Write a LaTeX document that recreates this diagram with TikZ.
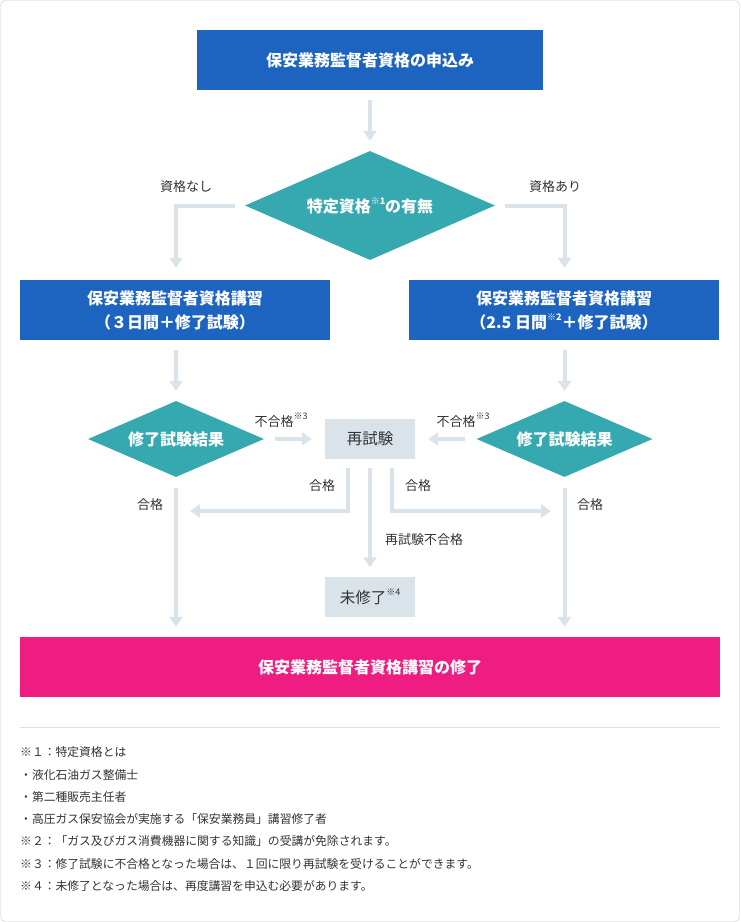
\documentclass[tikz,border=0pt]{standalone}
\usepackage{fontspec}
\setmainfont{Noto Sans CJK JP}
\usetikzlibrary{shapes.geometric,arrows.meta,positioning}
\definecolor{boxblue}{HTML}{1D63C0}
\definecolor{judgegreen}{HTML}{36A8B0}
\definecolor{donepink}{HTML}{EF1D82}
\definecolor{flowgray}{HTML}{DAE2EA}
\definecolor{framegray}{HTML}{BFCEDC}
\definecolor{textgray}{HTML}{333333}
\newcommand\kome[1]{\raisebox{0.5em}{\fontsize{9}{9}\selectfont ※#1}}
\tikzset{
  bluebox/.style={fill=boxblue, text=white, minimum width=346pt, minimum height=60pt, inner sep=0pt,
    align=center, font=\fontsize{16}{24}\selectfont\bfseries},
  graybox/.style={fill=flowgray, text=textgray, minimum width=90pt, minimum height=40pt, inner sep=0pt,
    font=\fontsize{15.5}{15.5}\selectfont},
  decision/.style={diamond, shape aspect=2.3, fill=judgegreen, text=white, inner sep=0pt,
    font=\fontsize{16}{16}\selectfont\bfseries},
  flow/.style={draw=flowgray, line width=4pt, -{Triangle[width=13pt,length=10pt]}, shorten <=10pt, shorten >=10pt},
  flowtag/.style={text=textgray, font=\fontsize{13}{13}\selectfont},
  footline/.style={text=textgray, anchor=west, inner sep=0pt, font=\fontsize{11.8}{12}\selectfont}
}
\begin{document}
\begin{tikzpicture}[x=1pt,y=-1pt]
\useasboundingbox (0,0) rectangle (740,922);
\draw[framegray, rounded corners=5pt] (0.5,0.5) rectangle (739.5,921.5);

\node[bluebox] (apply) at (370,60) {保安業務監督者資格の申込み};
\node[decision, minimum width=250pt, minimum height=109pt] (tokutei) at (370,205.5) {特定資格\kome{1}の有無};
\node[bluebox, minimum width=310pt] (course3) at (175,310) {保安業務監督者資格講習\\（３日間＋修了試験）};
\node[bluebox, minimum width=310pt] (course25) at (564,310) {保安業務監督者資格講習\\（2.5 日間\kome{2}＋修了試験）};
\node[decision, minimum width=176pt, minimum height=76pt] (resultL) at (176,439) {修了試験結果};
\node[decision, minimum width=176pt, minimum height=76pt] (resultR) at (564.5,439) {修了試験結果};
\node[graybox] (retest) at (370,439) {再試験};
\node[graybox] (miss) at (370,596.5) {未修了\kome{4}};
\node[bluebox, fill=donepink, minimum width=700pt] (done) at (370,667) {保安業務監督者資格講習の修了};
\coordinate (joinL) at (176,511);
\coordinate (joinR) at (565,511);

\draw[flow] (apply) -- (tokutei);
\draw[flow, shorten >=12pt] (tokutei.west) -| (course3.north -| resultL);
\draw[flow, shorten >=12pt] (tokutei.east) -| (course25.north -| resultR);
\draw[flow] (course3.south -| resultL) -- (resultL);
\draw[flow] (course25.south -| resultR) -- (resultR);
\draw[flow, shorten <=11pt, shorten >=13pt] (resultL.east) -- (retest.west);
\draw[flow, shorten <=11pt, shorten >=13pt] (resultR.west) -- (retest.east);
\draw[flow, shorten <=11pt] (resultL.south) -- (done.north -| resultL);
\draw[flow, shorten <=11pt] (resultR.south) -- (done.north -| resultR);
\draw[flow, shorten <=9pt, shorten >=14pt] ([xshift=-22pt]retest.south) |- (joinL);
\draw[flow, shorten <=9pt, shorten >=14pt] ([xshift=22pt]retest.south) |- (joinR);
\draw[flow, shorten <=9pt, shorten >=9pt] (retest) -- (miss);

\node[flowtag] (nashi) at (186,187) {資格なし};
\node[flowtag] (ari) at (555,187) {資格あり};
\node[flowtag] (failL) at (281,420) {不合格\kome{3}};
\node[flowtag] (failR) at (463,420) {不合格\kome{3}};
\node[flowtag] (passL) at (150,505) {合格};
\node[flowtag] (passR) at (590,505) {合格};
\node[flowtag] (repassL) at (322,486) {合格};
\node[flowtag] (repassR) at (418,486) {合格};
\node[flowtag] (refail) at (424,540) {再試験不合格};

\draw[flowgray] (20,727.5) -- (720,727.5);
\foreach \txt [count=\i] in {※１：特定資格とは, ・液化石油ガス整備士, ・第二種販売主任者,
  ・高圧ガス保安協会が実施する「保安業務員」講習修了者,
  ※２：「ガス及びガス消費機器に関する知識」の受講が免除されます。,
  ※３：修了試験に不合格となった場合は、１回に限り再試験を受けることができます。,
  ※４：未修了となった場合は、再度講習を申込む必要があります。}
  {\node[footline] (note\i) at (20,{730+22.3*\i}) {\txt};}
\end{tikzpicture}
\end{document}
